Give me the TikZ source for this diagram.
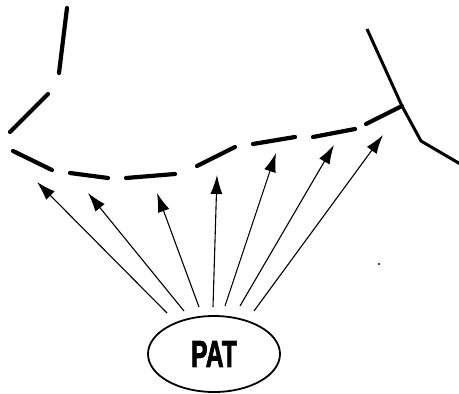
\documentclass[tikz,border=0pt]{standalone}
\usepackage{fontspec}
\newfontfamily\patfont[FakeBold=2.5]{Liberation Sans Bold}
\usetikzlibrary{arrows.meta,shapes.geometric}
\begin{document}
\begin{tikzpicture}[x=1pt,y=-1pt,
  wall/.style={line width=4.2pt,line cap=round},
  edge/.style={line width=3pt,line join=miter},
  ray/.style={line width=1.1pt,-{Latex[length=19pt,width=12pt]}}]
\useasboundingbox (0,0) rectangle (459,394);
% broken outline
\draw[wall] (67,8) -- (59,73);
\draw[wall] (48,94) -- (10,132);
\draw[wall] (13,151) -- (52,170);
\draw[wall] (70,173) -- (108,178);
\draw[wall] (126,178) -- (175,174);
\draw[wall] (197,166) -- (235,147);
\draw[wall] (253,144) -- (295,137);
\draw[wall] (313,137) -- (355,129);
\draw[wall] (366,124) -- (402,106);
% solid corner
\draw[edge] (367,29) -- (402,106) -- (421,141) -- (462,165);
% stray speck
\fill (379,264) circle (1.2pt);
% source
\node[draw,line width=1.8pt,ellipse,minimum width=132pt,minimum height=76pt,inner sep=0pt] (pat) at (214,354)
  {\scalebox{0.66}[1]{\patfont\fontsize{37.5pt}{37.5pt}\selectfont PAT}};
% ray ends
\coordinate (s1) at (167,313); \coordinate (t1) at (37,182);
\coordinate (s2) at (184,311); \coordinate (t2) at (88,193);
\coordinate (s3) at (199,307); \coordinate (t3) at (157,193);
\coordinate (s4) at (213,307); \coordinate (t4) at (217,175);
\coordinate (s5) at (225,306); \coordinate (t5) at (276,153);
\coordinate (s6) at (240,306); \coordinate (t6) at (334,145);
\coordinate (s7) at (254,311); \coordinate (t7) at (383,135);
\foreach \i in {1,...,7} \draw[ray] (s\i) -- (t\i);
\end{tikzpicture}
\end{document}
